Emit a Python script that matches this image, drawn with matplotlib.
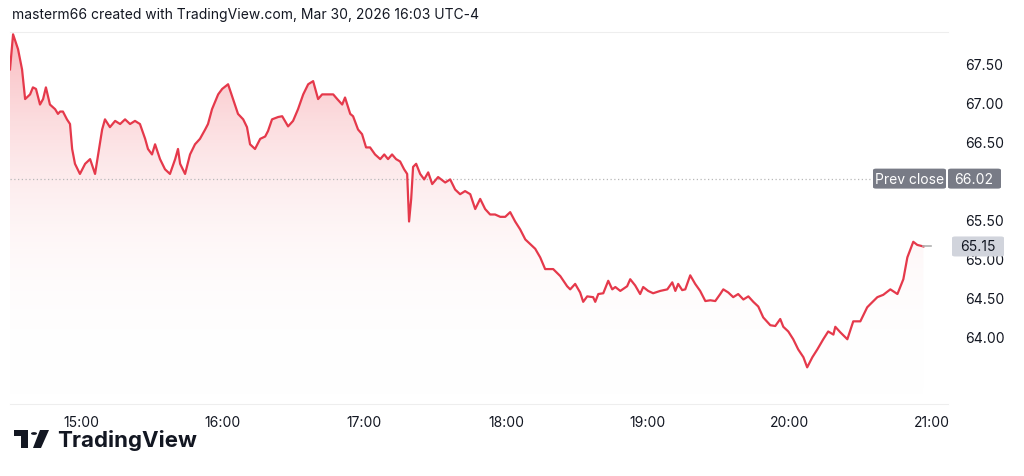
import matplotlib.pyplot as plt
import numpy as np
from matplotlib.patches import Polygon, Rectangle, Circle, FancyBboxPatch
from matplotlib.colors import LinearSegmentedColormap

# minutes after 14:30 and price
minutes = [0, 1.3, 3.4, 5.1, 6.4, 8.5, 9.7, 11.0, 12.7, 14.0, 15.2, 16.9, 19.1, 20.3, 21.2, 22.4, 24.1, 25.4,
           26.3, 27.5, 29.6, 31.8, 33.9, 36.0, 37.3, 39.0, 40.2, 42.3, 44.5, 46.6, 48.7, 50.8, 52.9, 55.0,
           57.2, 58.4, 60.1, 61.4, 63.5, 65.6, 67.7, 69.9, 71.1, 72.0, 74.1, 76.2, 78.3, 80.4, 82.6, 83.8,
           85.5, 88.1, 89.8, 92.3, 94.4, 96.5, 98.7, 100.3, 101.6, 103.7, 105.9, 108.0, 109.2, 110.9, 113.5,
           115.2, 117.7, 119.8, 121.9, 124.1, 126.2, 128.3, 130.4, 132.1, 134.6, 136.8, 138.5, 140.6, 141.8,
           144.0, 145.2, 147.3, 149.0, 150.7, 152.4, 154.5, 156.7, 158.4, 160.0, 161.7, 163.4, 165.1, 166.8,
           168.1, 168.9, 169.8, 170.6, 171.9, 173.6, 175.3, 177.0, 178.7, 181.2, 184.2, 186.3, 188.4, 190.5,
           192.6, 194.8, 196.9, 199.0, 201.1, 203.2, 205.3, 207.5, 209.6, 211.7, 213.8, 215.9, 218.1, 220.2,
           222.3, 224.4, 226.5, 229.9, 232.9, 235.8, 237.1, 239.2, 241.3, 242.6, 244.3, 246.8, 247.7, 249.0,
           251.1, 253.2, 254.9, 256.2, 258.3, 261.2, 262.5, 264.6, 266.7, 268.0, 270.1, 272.2, 275.2, 278.2,
           280.3, 281.6, 282.8, 284.5, 285.8, 287.9, 290.0, 292.1, 294.3, 296.4, 298.5, 300.6, 301.9, 304.0,
           306.1, 308.2, 310.4, 312.5, 314.6, 316.7, 318.8, 321.8, 323.9, 326.0, 327.3, 329.4, 331.5, 333.6,
           335.8, 337.4, 339.6, 341.7, 344.2, 346.3, 348.5, 349.3, 351.4, 354.4, 356.9, 359.9, 362.8, 364.1,
           367.1, 369.6, 372.6, 375.6, 376.8, 378.1, 379.8, 382.3, 384.0, 386.6]
prices = [67.42, 67.87, 67.68, 67.42, 67.04, 67.10, 67.19, 67.17, 66.97, 67.04, 67.19, 66.97, 66.91, 66.85,
          66.88, 66.88, 66.78, 66.72, 66.40, 66.21, 66.08, 66.21, 66.27, 66.08, 66.33, 66.65, 66.78, 66.68,
          66.76, 66.72, 66.78, 66.72, 66.76, 66.72, 66.53, 66.40, 66.33, 66.46, 66.27, 66.14, 66.08, 66.27,
          66.40, 66.21, 66.08, 66.33, 66.46, 66.53, 66.65, 66.72, 66.91, 67.10, 67.17, 67.23, 67.04, 66.85,
          66.78, 66.68, 66.46, 66.40, 66.53, 66.56, 66.63, 66.78, 66.81, 66.82, 66.69, 66.76, 66.91, 67.10,
          67.23, 67.27, 67.04, 67.10, 67.10, 67.10, 67.04, 66.97, 67.06, 66.85, 66.82, 66.65, 66.59, 66.42,
          66.42, 66.33, 66.27, 66.33, 66.27, 66.33, 66.27, 66.24, 66.14, 66.08, 65.47, 65.76, 66.17, 66.21,
          66.08, 66.01, 66.10, 65.95, 66.04, 65.97, 66.01, 65.88, 65.82, 65.86, 65.82, 65.63, 65.76, 65.63,
          65.56, 65.56, 65.53, 65.53, 65.59, 65.47, 65.37, 65.24, 65.18, 65.12, 65.01, 64.86, 64.86, 64.77,
          64.64, 64.60, 64.67, 64.56, 64.44, 64.51, 64.50, 64.44, 64.54, 64.55, 64.71, 64.60, 64.63, 64.58,
          64.64, 64.73, 64.65, 64.54, 64.63, 64.58, 64.55, 64.58, 64.60, 64.69, 64.58, 64.67, 64.59, 64.60,
          64.78, 64.67, 64.58, 64.45, 64.46, 64.45, 64.54, 64.60, 64.56, 64.50, 64.54, 64.47, 64.51, 64.44,
          64.38, 64.24, 64.14, 64.13, 64.22, 64.12, 64.06, 63.96, 63.83, 63.73, 63.60, 63.73, 63.83, 63.96,
          64.06, 64.02, 64.12, 64.05, 63.96, 64.19, 64.19, 64.37, 64.41, 64.50, 64.53, 64.60, 64.54, 64.63,
          64.73, 65.01, 65.21, 65.17, 65.15]
prev_close = 66.02
last_price = 65.15
x_ticks = [30, 90, 150, 210, 270, 330, 390]
x_labels = ["15:00", "16:00", "17:00", "18:00", "19:00", "20:00", "21:00"]
y_ticks = [64.0, 64.5, 65.0, 65.5, 66.5, 67.0, 67.5]

plt.rcParams['font.family'] = ['Inter', 'DejaVu Sans']
fig = plt.figure(figsize=(10.24, 4.77), dpi=100)
ax = fig.add_axes([10 / 1024, 72 / 477, 938 / 1024, 372 / 477])
ymin, ymax = 63.13, 67.90
xmax = 397

red = '#e5394b'
# gradient fill under the line
grad = np.linspace(0, 1, 256).reshape(-1, 1) ** 1.3
cmap = LinearSegmentedColormap.from_list('g', [(1, 1, 1, 0), (0.96, 0.55, 0.58, 0.6)])
im = ax.imshow(grad, extent=[0, minutes[-1], ymin, max(prices)], origin='lower', aspect='auto',
               cmap=cmap, zorder=1)
poly = Polygon(list(zip(minutes, prices)) + [(minutes[-1], ymin), (0, ymin)], closed=True,
               transform=ax.transData, facecolor='none', edgecolor='none')
ax.add_patch(poly)
im.set_clip_path(poly)
ax.plot(minutes, prices, color=red, lw=1.6, zorder=3)
ax.plot([minutes[-1], minutes[-1] + 3], [last_price, last_price], color='#b0b0b0', lw=1.2, zorder=3)
ax.axhline(prev_close, color='#b8b8b8', lw=0.9, ls=(0, (1, 2)), zorder=2)

ax.set_xlim(0, xmax)
ax.set_ylim(ymin, ymax)
ax.set_xticks(x_ticks)
ax.set_xticklabels(x_labels)
ax.set_yticks(y_ticks)
ax.set_yticklabels([f"{v:.2f}" for v in y_ticks])
ax.yaxis.tick_right()
ax.tick_params(length=0, labelsize=10, colors='#131722', pad=12)
ax.tick_params(axis='x', pad=8)
for s in ax.spines.values():
    s.set_visible(False)
for side in ('top', 'bottom'):
    ax.spines[side].set_visible(True)
    ax.spines[side].set_color('#eeeeee')

# price labels on the right
def tr(v):
    return ax.transData.transform((0, v))[1] / fig.bbox.height

def box(x0, y0, w, h, color):
    fig.patches.append(FancyBboxPatch((x0 / 1024, y0), w / 1024, h / 477,
                                      boxstyle='round,pad=0,rounding_size=0.003',
                                      transform=fig.transFigure, facecolor=color, edgecolor='none'))

yp = tr(prev_close)
box(873, yp - 10 / 477, 73, 20, '#787b86')
box(948, yp - 10 / 477, 53, 20, '#787b86')
fig.text(910 / 1024, yp, "Prev close", color='white', fontsize=10, ha='center', va='center')
fig.text(974 / 1024, yp, f"{prev_close:.2f}", color='white', fontsize=10, ha='center', va='center')
yl = tr(last_price)
box(952, yl - 10 / 477, 52, 20, '#d1d4dc')
fig.text(978 / 1024, yl, f"{last_price:.2f}", color='#131722', fontsize=10, ha='center', va='center')

fig.text(12 / 1024, 1 - 15 / 477, "masterm66 created with TradingView.com, Mar 30, 2026 16:03 UTC-4",
         fontsize=10, color='#131722', va='center')

# logo
fig.patches.append(Rectangle((14 / 1024, 1 - 437 / 477), 14 / 1024, 6 / 477, transform=fig.transFigure,
                             facecolor='#131722'))
fig.patches.append(Rectangle((21 / 1024, 1 - 449 / 477), 7 / 1024, 12 / 477, transform=fig.transFigure,
                             facecolor='#131722'))
fig.patches.append(Circle((34 / 1024, 1 - 434.5 / 477), 3 / 1024, transform=fig.transFigure,
                          facecolor='#131722'))
fig.patches.append(Polygon([(40 / 1024, 1 - 431 / 477), (49 / 1024, 1 - 431 / 477),
                            (41 / 1024, 1 - 449 / 477), (33 / 1024, 1 - 449 / 477)],
                           transform=fig.transFigure, facecolor='#131722'))
fig.text(57 / 1024, 1 - 441 / 477, "TradingView", fontsize=16, fontweight='bold', color='#131722', va='center')

fig.savefig('out.png', dpi=100, facecolor='white')
